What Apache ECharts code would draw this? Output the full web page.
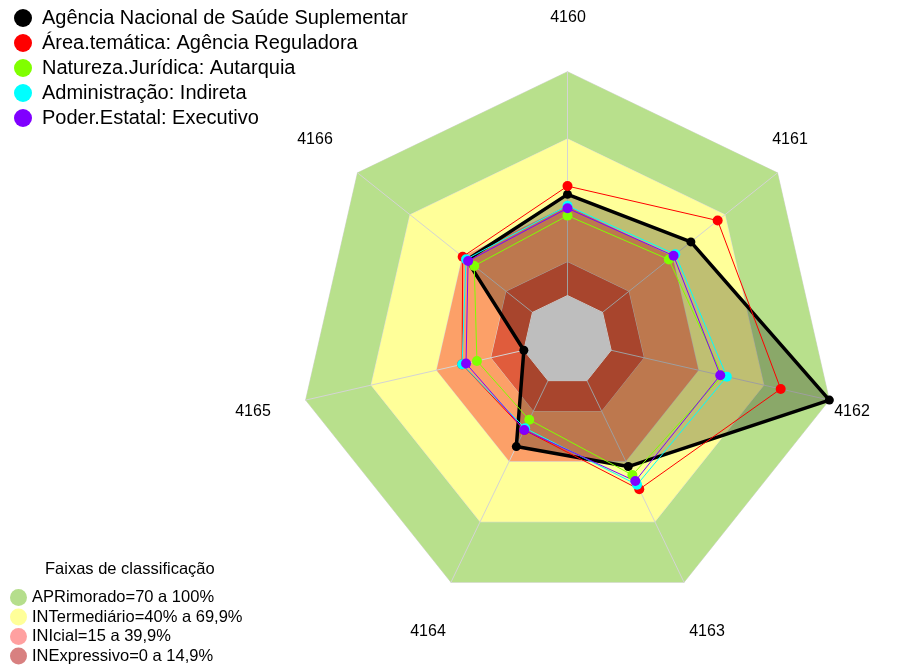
<!DOCTYPE html>
<html>
<head>
<meta charset="utf-8">
<script src="https://cdn.jsdelivr.net/npm/echarts@6/dist/echarts.min.js"></script>
<style>
  html, body { margin: 0; padding: 0; background: #fff; }
  #chart { width: 901px; height: 668px; }
</style>
</head>
<body>
<div id="chart"></div>
<script>
// eixos, na ordem do grafico original (sentido horario a partir do topo)
var categories = ['4160', '4161', '4162', '4163', '4164', '4165', '4166'];

// valores (%)
var agencia      = [45.2, 50.5, 100, 42.6, 32.7, 0, 37.6];
var areaTematica = [48.9, 65.8, 77.7, 53.9, 24.5, 28.3, 39.9];
var natureza     = [35.7, 37.9, 51.0, 46.8, 19.4, 21.5, 33.3];
var administracao= [40.1, 41.6, 53.0, 51.6, 23.6, 28.3, 38.0];
var poder        = [39.0, 40.6, 50.0, 49.8, 24.5, 26.5, 36.8];

var seriesNames = [
    'Agência Nacional de Saúde Suplementar',
    'Área.temática: Agência Reguladora',
    'Natureza.Jurídica: Autarquia',
    'Administração: Indireta',
    'Poder.Estatal: Executivo'
];
var seriesValues = [agencia, areaTematica, natureza, administracao, poder];
var seriesColors = ['#000000', '#ff0000', '#80ff00', '#00ffff', '#8000ff'];

// faixas de classificacao (limite superior de cada faixa)
var faixaNames  = ['APRimorado=70 a 100%', 'INTermediário=40% a 69,9%', 'INIcial=15 a 39,9%', 'INExpressivo=0 a 14,9%'];
var faixaLimits = [100, 70, 40, 15];
var faixaFill   = ['#b8e08c', '#ffff99', '#fca068', '#e05c3c'];
var faixaLegend = ['#b5de8c', '#ffff99', '#ffa0a0', '#d88080'];

var axisMin = -20, axisMax = 100;

// layout
var cx = 567.5, cy = 340.3, R = 268.6;
var labelPos = [[568, 18], [790, 140], [852, 412], [707, 632], [428, 632], [253, 412], [315, 140]];

// echarts desenha o radar no sentido anti-horario: reordena
var order = [0, 6, 5, 4, 3, 2, 1];
function pick(arr) {
    var out = [];
    for (var i = 0; i < order.length; i++) out.push(arr[order[i]]);
    return out;
}
function constArr(v) {
    var out = [];
    for (var i = 0; i < categories.length; i++) out.push(v);
    return out;
}

var indicator = pick(categories).map(function (c) {
    return { name: c, min: axisMin, max: axisMax };
});

var series = [];

// faixas de fundo
faixaNames.forEach(function (name, i) {
    series.push({
        name: name,
        type: 'radar',
        z: 1,
        silent: true,
        symbol: 'none',
        itemStyle: { color: faixaLegend[i] },
        lineStyle: { color: '#d9d9d9', width: 1 },
        areaStyle: { color: faixaFill[i], opacity: 1 },
        data: [{ value: constArr(faixaLimits[i]) }]
    });
});

// preenchimento da serie principal (fica abaixo do centro vazio)
series.push({
    name: 'preenchimento',
    type: 'radar',
    z: 3,
    silent: true,
    symbol: 'none',
    lineStyle: { width: 0, opacity: 0 },
    areaStyle: { color: 'rgba(0,0,0,0.25)', opacity: 1 },
    data: [{ value: pick(agencia) }]
});

// centro vazio
series.push({
    name: 'centro',
    type: 'radar',
    z: 4,
    silent: true,
    symbol: 'none',
    lineStyle: { color: '#d0d0d0', width: 1 },
    areaStyle: { color: '#bebebe', opacity: 1 },
    data: [{ value: constArr(0) }]
});

// series de dados (linhas e pontos)
seriesNames.forEach(function (name, i) {
    var isMain = i === 0;
    series.push({
        name: name,
        type: 'radar',
        z: 5,
        silent: true,
        symbol: 'circle',
        symbolSize: isMain ? 9 : 10,
        itemStyle: { color: seriesColors[i] },
        lineStyle: { color: seriesColors[i], width: isMain ? 3.5 : 1, opacity: 1 },
        data: [{ value: pick(seriesValues[i]) }]
    });
});

var graphics = categories.map(function (c, i) {
    return {
        type: 'text',
        x: labelPos[i][0],
        y: labelPos[i][1],
        style: {
            text: c,
            font: '16px "Liberation Sans", Arial, sans-serif',
            fill: '#000',
            textAlign: 'center',
            textVerticalAlign: 'middle'
        }
    };
});

var option = {
    animation: false,
    backgroundColor: '#ffffff',
    textStyle: { fontFamily: '"Liberation Sans", Arial, sans-serif' },
    title: {
        text: 'Faixas de classificação',
        left: 45,
        top: 561,
        padding: 0,
        textStyle: { fontSize: 16.5, fontWeight: 'normal', color: '#000' }
    },
    legend: [{
        data: seriesNames,
        orient: 'vertical',
        left: 14,
        top: 8,
        padding: 0,
        icon: 'circle',
        itemWidth: 18,
        itemHeight: 18,
        itemGap: 5,
        selectedMode: false,
        textStyle: { fontSize: 20, lineHeight: 20, color: '#000', padding: [0, 0, 0, 5] }
    }, {
        data: faixaNames.map(function (n, i) {
            return { name: n, itemStyle: { color: faixaLegend[i], borderColor: faixaLegend[i] } };
        }),
        orient: 'vertical',
        left: 10,
        top: 589,
        padding: 0,
        icon: 'circle',
        itemWidth: 17,
        itemHeight: 17,
        itemGap: 2.5,
        selectedMode: false,
        textStyle: { fontSize: 16.5, lineHeight: 17, color: '#000' }
    }],
    radar: {
        z: 2,
        center: [cx, cy],
        radius: R,
        startAngle: 90,
        shape: 'polygon',
        indicator: indicator,
        axisName: { show: false },
        splitNumber: 1,
        splitLine: { show: false },
        splitArea: { show: false },
        axisLine: { lineStyle: { color: '#d4d4d4', width: 1 } },
        axisTick: { show: false },
        axisLabel: { show: false }
    },
    graphic: graphics,
    series: series
};

var chart = echarts.init(document.getElementById('chart'));
chart.setOption(option);
</script>
</body>
</html>
